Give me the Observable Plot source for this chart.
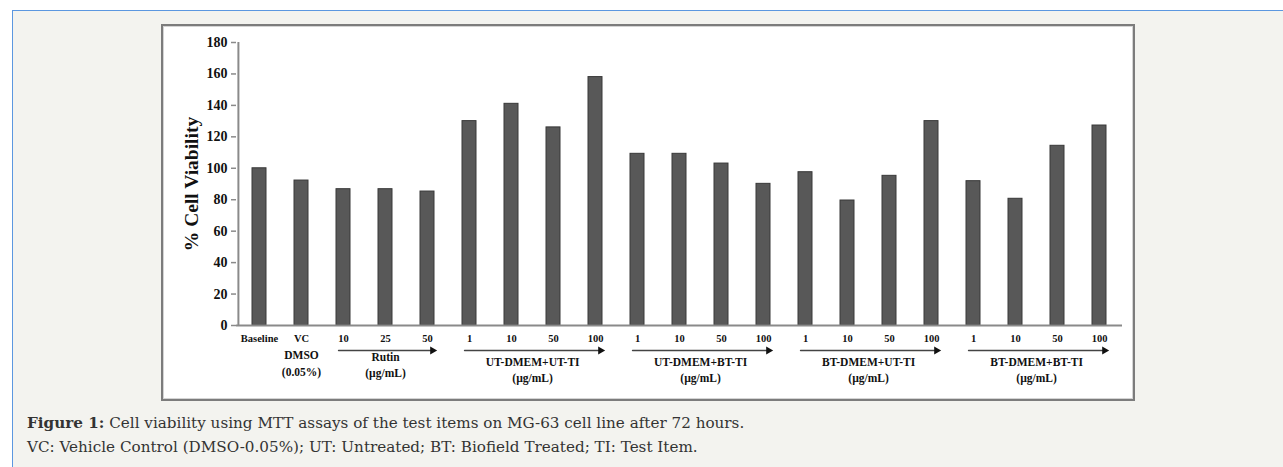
<!DOCTYPE html>
<html>
<head>
<meta charset="utf-8">
<script src="https://cdn.jsdelivr.net/npm/d3@7"></script>
<script src="https://cdn.jsdelivr.net/npm/@observablehq/plot@0.6"></script>
<style>
  html, body { margin: 0; padding: 0; background: #ffffff; overflow: hidden; }
  #outer { position: absolute; left: 12px; top: 10px; width: 1290px; height: 480px;
           border: 1px solid #5b97e0; background: #f3f3ef; }
  #box { position: absolute; left: 148px; top: 13px; width: 970px; height: 373px;
         border: 2px solid #7c7c7c; background: #ffffff; box-shadow: inset 0 0 0 1px #d4d4d4; }
  #box svg { display: block; }
  #caption { position: absolute; left: 14px; top: 400px; font-family: "DejaVu Serif", serif;
             font-size: 15.2px; line-height: 24px; color: #333; }
</style>
</head>
<body>
<div id="outer">
  <div id="box"></div>
  <div id="caption">
    <div><b>Figure 1:</b> Cell viability using MTT assays of the test items on MG-63 cell line after 72 hours.</div>
    <div>VC: Vehicle Control (DMSO-0.05%); UT: Untreated; BT: Biofield Treated; TI: Test Item.</div>
  </div>
</div>
<script>
// ---- data ----
const groups = ["", "", "Rutin", "Rutin", "Rutin",
  "UT-DMEM+UT-TI", "UT-DMEM+UT-TI", "UT-DMEM+UT-TI", "UT-DMEM+UT-TI",
  "UT-DMEM+BT-TI", "UT-DMEM+BT-TI", "UT-DMEM+BT-TI", "UT-DMEM+BT-TI",
  "BT-DMEM+UT-TI", "BT-DMEM+UT-TI", "BT-DMEM+UT-TI", "BT-DMEM+UT-TI",
  "BT-DMEM+BT-TI", "BT-DMEM+BT-TI", "BT-DMEM+BT-TI", "BT-DMEM+BT-TI"];
const doses = ["Baseline", "VC", "10", "25", "50",
  "1", "10", "50", "100",
  "1", "10", "50", "100",
  "1", "10", "50", "100",
  "1", "10", "50", "100"];
const viability = [100, 92.2, 86.7, 86.7, 85.2,
  130, 141, 126, 158,
  109.2, 109.2, 103, 90.1,
  97.5, 79.5, 95.2, 130,
  91.8, 80.6, 114.3, 127.2];
const groupNames = ["Rutin", "UT-DMEM+UT-TI", "UT-DMEM+BT-TI", "BT-DMEM+UT-TI", "BT-DMEM+BT-TI"];
const vcLine1 = "DMSO";
const vcLine2 = "(0.05%)";
const unitLabel = "(µg/mL)";
const yTitle = "% Cell Viability";

// ---- build ----
const keys = doses.map((d, i) => groups[i] + "|" + d);
const data = keys.map((k, i) => ({key: k, dose: doses[i], group: groups[i], v: viability[i]}));
const doseOf = new Map(keys.map((k, i) => [k, doses[i]]));
const ext = groupNames.map(g => {
  const idx = groups.map((x, i) => x === g ? i : -1).filter(i => i >= 0);
  return {name: g, first: keys[idx[0]], last: keys[idx[idx.length - 1]], n: idx.length,
          mid: keys[Math.floor((idx[0] + idx[idx.length - 1]) / 2)]};
});
const odd = ext.filter(e => e.n % 2 === 1);
const even = ext.filter(e => e.n % 2 === 0);

const W = 970, H = 373, ML = 73, MR = 11, MT = 16, MB = 74;
const step = (W - ML - MR) / keys.length;
const font = "Liberation Serif";
const axisGray = "#8a8a8a";
const ink = "#111";
const lbl = {fontSize: 11.5, fontWeight: "bold", fill: ink, frameAnchor: "bottom"};

const chart = Plot.plot({
  width: W, height: H,
  marginLeft: ML, marginRight: MR, marginTop: MT, marginBottom: MB,
  style: {background: "transparent", fontFamily: font, overflow: "visible"},
  x: {domain: keys, paddingInner: 0.667, paddingOuter: 0.3335, axis: null},
  y: {domain: [0, 180], axis: null},
  marks: [
    Plot.barY(data, {x: "key", y: "v", fill: "#585858", stroke: "#383838", strokeWidth: 1}),
    Plot.ruleY([0], {stroke: axisGray, strokeWidth: 2}),
    Plot.ruleX([keys[0]], {y1: 0, y2: 180, dx: -step / 2, stroke: axisGray, strokeWidth: 2}),
    Plot.axisY({ticks: d3.range(0, 181, 20), tickSize: 5, tickPadding: 4, stroke: axisGray,
                strokeWidth: 1.5, fontSize: 14, fontWeight: "bold", fill: ink, label: null}),
    Plot.axisX({tickSize: 0, tickPadding: 9, tickFormat: k => doseOf.get(k),
                fontSize: 10.5, fontWeight: "bold", fill: ink, label: null}),
    Plot.text([yTitle], {frameAnchor: "left", textAnchor: "middle", rotate: -90, dx: -45,
                         fontSize: 19.5, fontWeight: "bold", fill: ink}),
    Plot.text([vcLine1], {x: () => keys[1], dy: 33, ...lbl}),
    Plot.text([vcLine2], {x: () => keys[1], dy: 50, ...lbl}),
    // group arrows
    Plot.arrow(ext, {x1: "first", x2: "last", y1: () => 0, y2: () => 0, dy: 25,
                     insetStart: -5, insetEnd: -3, headLength: 0, stroke: "#444", strokeWidth: 1.3}),
    Plot.dot(ext, {x: "last", y: () => 0, dy: 25, dx: 5, symbol: "triangle", rotate: 90,
                   r: 3, fill: ink, stroke: "none"}),
    // group labels
    Plot.text(odd, {x: "mid", dy: 35, text: "name", ...lbl}),
    Plot.text(odd, {x: "mid", dy: 51, text: () => unitLabel, ...lbl}),
    Plot.text(even, {x: "mid", dx: step / 2, dy: 40, text: "name", ...lbl}),
    Plot.text(even, {x: "mid", dx: step / 2, dy: 56, text: () => unitLabel, ...lbl})
  ]
});
document.getElementById("box").appendChild(chart);
</script>
</body>
</html>
